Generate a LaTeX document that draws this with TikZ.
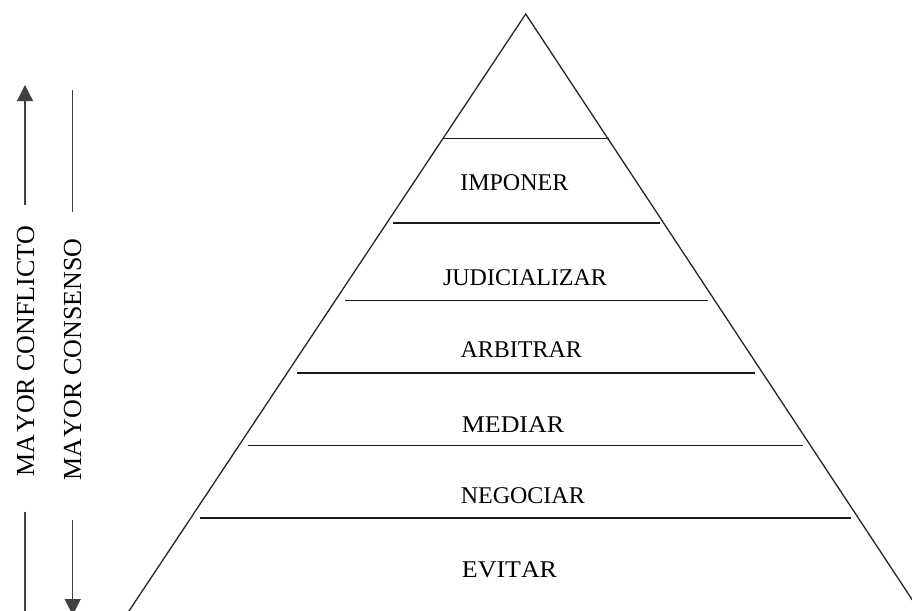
\documentclass[tikz,border=0pt]{standalone}
\usepackage{fontspec}
\setmainfont{Liberation Serif}[Kerning=Off]
\usetikzlibrary{arrows.meta}
\tikzset{
  leg/.style={line width=1.3pt, black!85},
  layer/.style={line width=1.8pt, black!90},
  sideline/.style={line width=1.4pt, black!75},
  lbl/.style={anchor=base, inner sep=0pt, font=\fontsize{24}{28}\selectfont},
  sidelbl/.style={anchor=base, inner sep=0pt, rotate=90, font=\fontsize{26}{30}\selectfont},
  tip/.style={-{Triangle[width=16pt,length=16pt]}}
}
\begin{document}
\begin{tikzpicture}[x=1pt,y=-1pt]
\useasboundingbox (0,0) rectangle (912,610);
\clip (0,0) rectangle (912,610);
\fill[white] (0,0) rectangle (912,610);
% pyramid
\draw[leg] (123,620) -- (525.7,14) -- (925.6,620);
% layers
\draw[layer] (443,138.5) -- (609,138.5);
\draw[layer] (393,222.7) -- (660,222.7);
\draw[layer] (345,300.5) -- (708,300.5);
\draw[layer] (297,372.7) -- (755,372.7);
\draw[layer] (248,445.5) -- (803,445.5);
\draw[layer] (200,517.7) -- (851,517.7);
% labels
\node[lbl] (imponer) at (514.3,190.3) {IMPONER};
\node[lbl] (judic) at (525,285.5) {JUDICIALIZAR};
\node[lbl] (arbit) at (521.3,357.3) {ARBITRAR};
\node[lbl] (mediar) at (513,432.3) {\scalebox{1.08}[1]{MEDIAR}};
\node[lbl] (negoc) at (522.8,503) {NEGOCIAR};
\node[lbl] (evitar) at (509.5,577) {\scalebox{1.08}[1]{EVITAR}};
% side labels
\node[sidelbl] (conflicto) at (34,351) {MA\kern2pt YOR CONFLICTO};
\node[sidelbl] (consenso) at (81,359.6) {MA\kern2pt YOR CONSENSO};
% side arrows
\coordinate (c1top) at (25,85);
\coordinate (c1a) at (25,205);
\coordinate (c1b) at (25,511.7);
\coordinate (c1bot) at (25,615);
\coordinate (c2top) at (72.7,90);
\coordinate (c2a) at (72.7,211.7);
\coordinate (c2b) at (72.7,520);
\coordinate (c2bot) at (72.7,615);
\draw[sideline,tip] (c1a) -- (c1top);
\draw[sideline] (c1b) -- (c1bot);
\draw[sideline] (c2top) -- (c2a);
\draw[sideline,tip] (c2b) -- (c2bot);
\end{tikzpicture}
\end{document}
